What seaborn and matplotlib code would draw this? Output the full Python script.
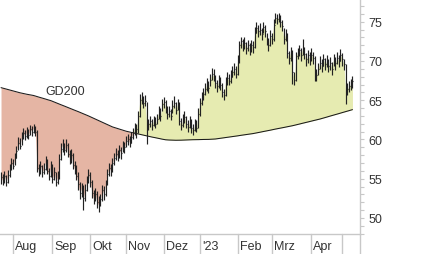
import numpy as np
import pandas as pd
import matplotlib
matplotlib.use("Agg")
import matplotlib.pyplot as plt
import matplotlib.transforms as mtransforms
from matplotlib.ticker import MultipleLocator
import seaborn as sns

# ---------------- data ----------------
holidays = ["2022-12-26", "2023-04-07", "2023-04-10", "2023-05-01"]
dates = pd.bdate_range("2022-07-21", "2023-05-10")
dates = dates[~dates.isin(pd.to_datetime(holidays))]

close = [55.2, 54.7, 55.3, 54.6, 55.5, 56.3, 57.0, 56.6, 57.6, 58.5,
         59.6, 59.2, 60.3, 60.8, 60.4, 61.0, 60.6, 61.3, 61.0, 61.5,
         60.9, 56.4, 56.0, 56.6, 55.8, 56.3, 57.2, 56.0, 55.4, 56.6,
         55.0, 55.8, 54.6, 55.2, 57.5, 58.8, 59.4, 58.6, 59.3, 58.2,
         57.6, 58.0, 56.8, 56.2, 55.4, 54.3, 53.2, 53.8, 52.5, 53.6,
         54.8, 55.5, 54.6, 53.2, 52.4, 53.0, 52.0, 51.6, 52.4, 53.6,
         53.0, 54.3, 55.6, 56.4, 56.0, 57.0, 57.6, 58.2, 57.8, 58.6,
         58.3, 59.2, 59.0, 59.8, 60.0, 59.6, 60.3, 60.8, 61.6, 61.3,
         63.0, 65.0, 65.4, 64.6, 64.9, 61.8, 62.0, 62.3, 61.8, 62.4,
         62.0, 62.6, 63.5, 63.0, 64.5, 64.8, 64.0, 63.2, 63.6, 63.0,
         64.2, 64.7, 63.8, 64.5, 62.3, 61.8, 62.4, 62.8, 62.0, 61.6,
         62.2, 61.4, 61.2, 61.8, 61.5, 63.2, 64.6, 65.2, 65.8, 66.4,
         67.0, 66.5, 67.6, 68.4, 68.0, 67.2, 66.8, 67.4, 67.0, 66.0,
         65.6, 67.4, 67.8, 67.5, 68.0, 68.6, 69.0, 68.4, 70.0, 72.0,
         72.5, 72.0, 72.3, 71.6, 72.0, 71.5, 72.0, 71.8, 73.6, 74.2,
         73.8, 74.0, 73.4, 74.3, 73.8, 72.6, 72.0, 73.2, 72.8, 74.6,
         75.5, 75.3, 75.6, 75.0, 74.4, 72.8, 73.4, 71.0, 70.4, 71.2,
         68.6, 67.6, 70.6, 71.0, 71.4, 70.8, 71.6, 70.9, 70.2, 70.7,
         70.3, 70.8, 70.4, 68.8, 68.2, 69.0, 69.8, 69.4, 70.2, 69.6,
         70.0, 69.4, 69.8, 69.0, 70.2, 69.7, 70.4, 70.0, 70.8, 70.2,
         69.6, 66.0, 66.4, 66.8, 67.0, 67.4]

high = [55.9, 55.6, 56.0, 55.5, 56.1, 56.9, 57.6, 57.5, 58.3, 59.2,
        60.3, 60.2, 60.9, 61.5, 61.2, 61.6, 61.3, 61.9, 61.7, 62.0,
        61.7, 61.2, 56.9, 57.2, 56.7, 57.0, 57.9, 57.5, 56.4, 57.3,
        56.9, 56.5, 55.8, 56.0, 58.1, 59.5, 60.0, 59.6, 60.1, 59.6,
        58.6, 58.8, 58.3, 57.2, 56.7, 55.8, 54.6, 54.5, 54.2, 54.3,
        55.4, 56.2, 55.8, 54.9, 53.6, 53.8, 53.4, 52.8, 53.0, 54.2,
        54.1, 54.9, 56.2, 57.0, 56.9, 57.6, 58.3, 58.9, 58.6, 59.3,
        59.0, 59.8, 59.7, 60.5, 60.7, 60.4, 61.0, 61.4, 62.1, 62.0,
        63.6, 65.8, 66.0, 65.5, 65.6, 64.8, 62.6, 63.0, 62.6, 63.0,
        62.8, 63.3, 64.2, 64.0, 65.2, 65.4, 65.0, 64.2, 64.3, 63.9,
        65.0, 65.5, 64.8, 65.2, 64.8, 62.7, 63.3, 63.6, 63.0, 62.5,
        63.0, 62.6, 62.0, 62.6, 62.5, 64.0, 65.3, 66.0, 66.6, 67.2,
        67.8, 67.4, 68.4, 69.1, 69.0, 68.2, 67.6, 68.2, 67.9, 67.2,
        66.4, 68.0, 68.6, 68.4, 68.8, 69.3, 69.7, 69.3, 70.8, 72.6,
        73.0, 72.8, 73.0, 72.4, 72.7, 72.3, 72.7, 72.6, 74.3, 74.9,
        74.6, 74.8, 74.2, 75.0, 74.6, 73.6, 72.9, 73.9, 73.6, 75.4,
        76.1, 76.0, 76.1, 75.8, 75.2, 74.2, 74.1, 73.6, 71.3, 71.8,
        71.4, 68.6, 71.2, 71.7, 72.0, 71.6, 72.8, 71.8, 71.0, 71.4,
        71.1, 71.6, 71.2, 70.6, 69.0, 69.7, 70.6, 70.2, 70.9, 70.4,
        70.8, 70.2, 70.5, 69.9, 70.9, 70.5, 71.1, 70.8, 71.5, 71.0,
        70.3, 69.6, 67.2, 67.5, 67.7, 68.1]

low = [54.3, 54.2, 54.5, 54.1, 54.4, 55.2, 56.1, 56.2, 56.7, 57.6,
       58.6, 58.8, 59.3, 60.0, 59.9, 60.2, 60.0, 60.6, 60.5, 60.8,
       60.4, 55.8, 55.4, 55.6, 55.2, 55.6, 56.1, 55.6, 54.8, 55.2,
       54.4, 54.9, 54.1, 54.3, 55.0, 57.4, 58.4, 58.0, 58.4, 57.8,
       56.9, 57.0, 56.3, 55.6, 54.8, 53.6, 52.4, 52.7, 51.0, 52.2,
       53.4, 54.5, 53.9, 52.6, 51.8, 52.2, 51.3, 50.7, 51.5, 52.1,
       52.3, 52.8, 54.2, 55.4, 55.3, 55.9, 56.8, 57.4, 57.2, 57.6,
       57.5, 58.4, 58.3, 59.0, 59.3, 59.0, 59.5, 60.1, 60.6, 60.2,
       60.8, 62.8, 64.5, 64.0, 64.2, 59.4, 61.2, 61.6, 61.2, 61.7,
       61.4, 62.0, 62.6, 62.4, 63.6, 64.0, 63.4, 62.6, 62.9, 62.5,
       63.4, 64.0, 63.2, 63.8, 61.8, 61.2, 61.6, 62.1, 61.4, 61.0,
       61.5, 60.8, 60.6, 61.1, 60.9, 61.4, 63.0, 64.4, 65.0, 65.6,
       66.2, 65.9, 66.8, 67.6, 67.4, 66.6, 66.0, 66.6, 66.3, 65.4,
       65.0, 65.5, 67.0, 66.9, 67.2, 67.9, 68.2, 67.8, 68.2, 69.8,
       71.6, 71.3, 71.5, 70.9, 71.3, 70.8, 71.2, 71.0, 71.6, 73.5,
       73.1, 73.3, 72.7, 73.6, 73.0, 72.0, 71.3, 71.9, 72.1, 72.5,
       74.8, 74.7, 74.9, 74.3, 73.8, 72.2, 72.6, 70.4, 69.6, 70.0,
       67.1, 67.0, 67.4, 70.2, 70.6, 70.0, 70.8, 70.2, 69.4, 69.8,
       69.5, 70.0, 69.6, 67.5, 67.4, 68.2, 69.0, 68.6, 69.3, 68.8,
       69.2, 68.6, 68.9, 68.2, 69.4, 68.9, 69.6, 69.2, 70.0, 69.4,
       68.8, 64.5, 65.6, 66.0, 66.3, 66.6]

gd200 = [66.60, 66.54, 66.48, 66.42, 66.36, 66.30, 66.24, 66.18, 66.12, 66.06,
         66.00, 65.95, 65.90, 65.85, 65.80, 65.76, 65.72, 65.68, 65.64, 65.60,
         65.53, 65.47, 65.40, 65.34, 65.27, 65.21, 65.14, 65.08, 65.01, 64.95,
         64.86, 64.77, 64.69, 64.60, 64.51, 64.42, 64.34, 64.25, 64.16, 64.07,
         63.99, 63.90, 63.81, 63.72, 63.64, 63.55, 63.46, 63.37, 63.28, 63.18,
         63.09, 63.00, 62.90, 62.80, 62.70, 62.60, 62.50, 62.40, 62.30, 62.20,
         62.10, 62.00, 61.90, 61.80, 61.70, 61.60, 61.53, 61.46, 61.39, 61.31,
         61.24, 61.17, 61.10, 61.05, 61.00, 60.95, 60.90, 60.85, 60.80, 60.75,
         60.70, 60.65, 60.60, 60.55, 60.50, 60.45, 60.40, 60.36, 60.31, 60.27,
         60.22, 60.18, 60.13, 60.09, 60.04, 60.00, 59.96, 59.94, 59.93, 59.92,
         59.91, 59.91, 59.90, 59.90, 59.90, 59.91, 59.92, 59.93, 59.94, 59.95,
         59.96, 59.96, 59.97, 59.97, 59.98, 59.98, 59.99, 59.99, 60.00, 60.00,
         60.01, 60.01, 60.02, 60.02, 60.03, 60.06, 60.09, 60.12, 60.15, 60.18,
         60.21, 60.25, 60.28, 60.31, 60.34, 60.37, 60.40, 60.43, 60.46, 60.50,
         60.53, 60.56, 60.59, 60.62, 60.65, 60.69, 60.72, 60.75, 60.79, 60.84,
         60.88, 60.92, 60.97, 61.01, 61.05, 61.10, 61.14, 61.18, 61.23, 61.27,
         61.32, 61.36, 61.40, 61.45, 61.49, 61.53, 61.58, 61.62, 61.66, 61.71,
         61.75, 61.80, 61.86, 61.91, 61.96, 62.02, 62.07, 62.12, 62.18, 62.23,
         62.28, 62.34, 62.39, 62.44, 62.50, 62.55, 62.60, 62.66, 62.73, 62.79,
         62.85, 62.92, 62.98, 63.04, 63.11, 63.17, 63.23, 63.29, 63.36, 63.42,
         63.48, 63.55, 63.61, 63.67, 63.74, 63.80]

month_labels = ["Aug", "Sep", "Okt", "Nov", "Dez", "'23", "Feb", "Mrz", "Apr", ""]
y_ticks = [50, 55, 60, 65, 70, 75]
ma_label = "GD200"

# ---------------- styling ----------------
sns.set_style("white")
plt.rcParams["font.family"] = ["Liberation Sans", "DejaVu Sans"]

RED = "#E5B5A4"
YEL = "#E6EBB1"
BAR = "#222222"
GRID = "#C8C8C8"
TXT = "#333333"

df = pd.DataFrame({"date": dates, "close": close, "high": high,
                   "low": low, "gd200": gd200})
df["i"] = np.arange(len(df))
x = df["i"].to_numpy()
c = df["close"].to_numpy()
m = df["gd200"].to_numpy()

fig = plt.figure(figsize=(4.26, 2.55), dpi=100)
ax = fig.add_axes([0, 20 / 255, 360 / 426, 235 / 255])

ax.fill_between(x, c, m, where=c >= m, interpolate=True, color=YEL, lw=0, zorder=1)
ax.fill_between(x, c, m, where=c <= m, interpolate=True, color=RED, lw=0, zorder=1)

sns.lineplot(data=df, x="i", y="gd200", ax=ax, color="#1a1a1a", lw=0.75, zorder=3)

ax.vlines(x, df["low"], df["high"], color=BAR, lw=0.85, zorder=4)
ax.hlines(c, x, x + 0.55, color=BAR, lw=0.85, zorder=4)

ax.text(37.3, 66.2, ma_label, fontsize=9, color=TXT, ha="center", va="center")

ax.set_xlim(-0.6, 209.4)
ax.set_ylim(47.96, 77.89)
ax.set_xlabel("")
ax.set_ylabel("")
ax.set_xticks([])

ax.yaxis.tick_right()
ax.set_yticks(y_ticks)
ax.yaxis.set_minor_locator(MultipleLocator(1))
ax.tick_params(axis="y", which="both", right=True, length=3.2, width=0.8,
               color=GRID, labelsize=9, labelcolor=TXT, pad=3)

for s in ["left", "top"]:
    ax.spines[s].set_visible(False)
for s in ["right", "bottom"]:
    ax.spines[s].set_color(GRID)
    ax.spines[s].set_linewidth(1.0)

# month separators and labels
month_key = df["date"].dt.to_period("M")
starts = df.index[month_key != month_key.shift()].tolist()[1:]
trans = mtransforms.blended_transform_factory(ax.transData, ax.transAxes)
for s_idx, lab in zip(starts, month_labels):
    ax.plot([s_idx, s_idx], [0, -0.09], transform=trans, color=GRID,
            lw=1.0, clip_on=False)
    if lab:
        ax.text(s_idx + 1.2, -0.052, lab, transform=trans, fontsize=9,
                color=TXT, ha="left", va="center")
ax.plot([209.4, 209.4], [0, -0.09], transform=trans, color=GRID, lw=1.0,
        clip_on=False)

fig.savefig("out.png", dpi=100)
